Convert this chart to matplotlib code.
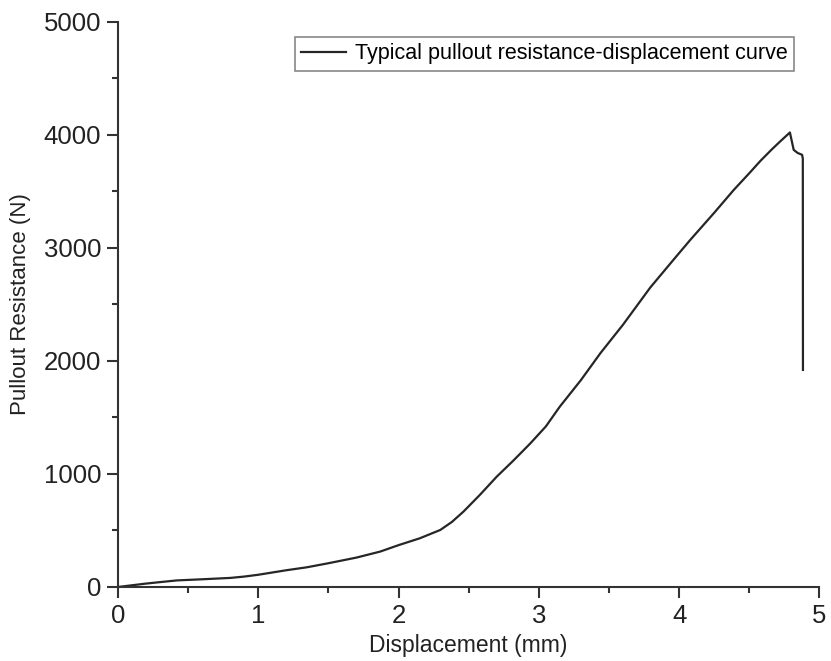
import matplotlib
matplotlib.use("Agg")
import matplotlib.pyplot as plt
from matplotlib.ticker import MultipleLocator

plt.rcParams['font.family'] = ['Liberation Sans', 'DejaVu Sans']

# displacement (mm) and pullout resistance (N)
disp = [0.0, 0.1, 0.2, 0.3, 0.42, 0.6, 0.8, 0.9, 1.0, 1.1, 1.2, 1.346, 1.5,
        1.7, 1.869, 2.0, 2.15, 2.297, 2.38, 2.463, 2.58, 2.7, 2.82, 2.94,
        3.05, 3.15, 3.3, 3.44, 3.6, 3.795, 3.95, 4.08, 4.25, 4.39, 4.5, 4.58,
        4.66, 4.72, 4.79, 4.817, 4.845, 4.877, 4.882, 4.883]
force = [0, 15, 30, 43, 58, 68, 80, 92, 108, 128, 148, 174, 210,
         260, 313, 370, 430, 504, 575, 667, 815, 976, 1120, 1271,
         1420, 1596, 1830, 2070, 2320, 2650, 2880, 3071, 3310, 3513, 3660, 3770,
         3870, 3941, 4021, 3867, 3840, 3823, 3790, 1920]

fig = plt.figure(figsize=(8.31, 6.61), dpi=100)
ax = fig.add_axes([0.142, 0.112, 0.844, 0.855])

ax.plot(disp, force, color='#262626', lw=1.6,
        label='Typical pullout resistance-displacement curve')

ax.set_xlim(0, 5)
ax.set_ylim(0, 5000)
ax.xaxis.set_major_locator(MultipleLocator(1))
ax.xaxis.set_minor_locator(MultipleLocator(0.5))
ax.yaxis.set_major_locator(MultipleLocator(1000))
ax.yaxis.set_minor_locator(MultipleLocator(500))

for s in ['top', 'right']:
    ax.spines[s].set_visible(False)
for s in ['left', 'bottom']:
    ax.spines[s].set_linewidth(1.5)
    ax.spines[s].set_color('#333333')

ax.tick_params(which='major', direction='out', length=8, width=1.5, pad=4,
               labelsize=18.5, colors='#333333', labelcolor='#222222')
ax.tick_params(which='minor', direction='out', length=4, width=1.5,
               colors='#333333')

ax.set_xlabel('Displacement (mm)', fontsize=16.5, color='#222222')
ax.set_ylabel('Pullout Resistance (N)', fontsize=16, color='#222222')
ax.xaxis.set_label_coords(0.5, -0.083)
ax.yaxis.set_label_coords(-0.124, 0.5)

leg = ax.legend(loc='upper right', bbox_to_anchor=(794 / 831, 1 - 37 / 661),
                bbox_transform=fig.transFigure, fontsize=15.5, fancybox=False,
                framealpha=1, edgecolor='#888888', handlelength=2.1,
                borderpad=0.3, handletextpad=0.4, borderaxespad=0)
leg.get_frame().set_linewidth(1.2)

fig.savefig('out.png', dpi=100)
